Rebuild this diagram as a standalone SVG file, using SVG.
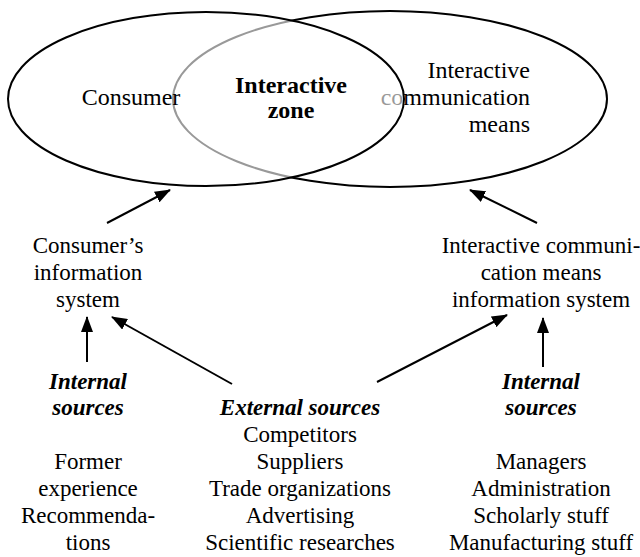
<svg xmlns="http://www.w3.org/2000/svg" width="640" height="557" viewBox="0 0 640 557" font-family="'Liberation Serif', 'Times New Roman', Times, 'DejaVu Serif', serif">
<style>
text{font-family:'Liberation Serif','Times New Roman',Times,'DejaVu Serif',serif;font-size:23px;fill:#000;text-anchor:middle}
.big{font-size:24px}
.b{font-weight:bold}
.bi{font-weight:bold;font-style:italic}
.r{text-anchor:end}
.ell{stroke:#000;stroke-width:2}
.con line{stroke:#000;stroke-width:2;marker-end:url(#ah)}
</style>
<defs>
<marker id="ah" markerUnits="userSpaceOnUse" markerWidth="16" markerHeight="12" viewBox="0 0 16 12" refX="15" refY="6" orient="auto">
<path d="M0,0 L16,6 L0,12 Z" fill="#000"/>
</marker>
</defs>
<rect width="640" height="557" fill="#fff"/>
<g id="means">
<ellipse class="ell" cx="390" cy="99" rx="217" ry="88" fill="none"/>
<text class="r big" x="530" y="78">Interactive</text>
<text class="r big" x="530" y="105">communication</text>
<text class="r big" x="530" y="132">means</text>
</g>
<g id="consumer">
<ellipse class="ell" cx="206" cy="99" rx="198" ry="87" fill="#fff" fill-opacity="0.6"/>
<text class="big" x="131" y="105">Consumer</text>
</g>
<g id="zone">
<text class="b big" x="291" y="93">Interactive</text>
<text class="b big" x="291" y="118">zone</text>
</g>
<g id="cis">
<text x="88" y="253">Consumer’s</text>
<text x="88" y="280">information</text>
<text x="88" y="307">system</text>
</g>
<g id="icmis">
<text x="541" y="253">Interactive communi-</text>
<text x="541" y="280">cation means</text>
<text x="541" y="307">information system</text>
</g>
<g id="int-left">
<text class="bi" x="88" y="389">Internal</text>
<text class="bi" x="88" y="415">sources</text>
<text x="88" y="469">Former</text>
<text x="88" y="496">experience</text>
<text x="88" y="523">Recommenda-</text>
<text x="88" y="550">tions</text>
</g>
<g id="ext">
<text class="bi" x="300" y="415">External sources</text>
<text x="300" y="442">Competitors</text>
<text x="300" y="469">Suppliers</text>
<text x="300" y="496">Trade organizations</text>
<text x="300" y="523">Advertising</text>
<text x="300" y="550">Scientific researches</text>
</g>
<g id="int-right">
<text class="bi" x="541" y="389">Internal</text>
<text class="bi" x="541" y="415">sources</text>
<text x="541" y="469">Managers</text>
<text x="541" y="496">Administration</text>
<text x="541" y="523">Scholarly stuff</text>
<text x="541" y="550">Manufacturing stuff</text>
</g>
<g id="connectors" class="con">
<line x1="107" y1="223" x2="170" y2="190"/>
<line x1="537" y1="223" x2="470" y2="190"/>
<line x1="87" y1="362" x2="87" y2="317"/>
<line x1="232" y1="384" x2="112" y2="317"/>
<line x1="377" y1="382" x2="507" y2="315"/>
<line x1="543" y1="367" x2="543" y2="318"/>
</g>
</svg>
